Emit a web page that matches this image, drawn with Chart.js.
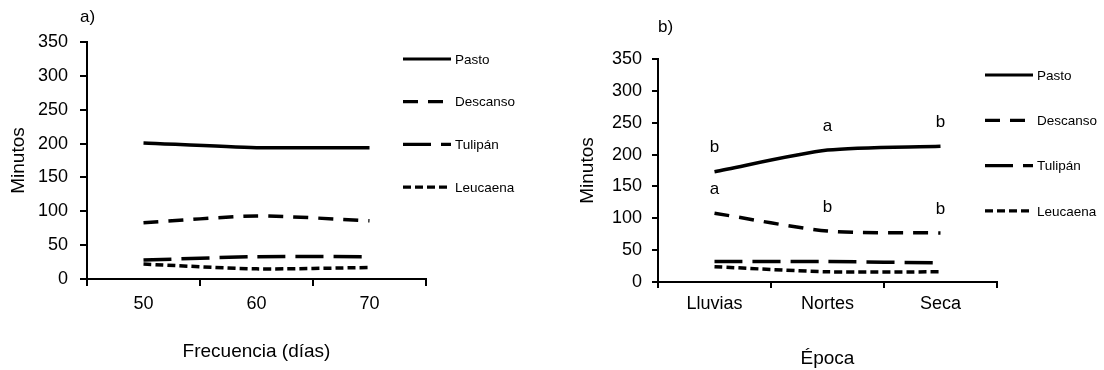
<!DOCTYPE html>
<html><head><meta charset="utf-8">
<script src="https://cdn.jsdelivr.net/npm/chart.js@4.4.1/dist/chart.umd.min.js"></script>
<style>
html,body{margin:0;padding:0;background:#fff;}
#wrap{position:relative;width:1104px;height:370px;background:#fff;}
.c{position:absolute;top:0;width:552px;height:370px;}
</style></head><body>
<div id="wrap">
<div class="c" style="left:0"><canvas id="ca" width="552" height="370"></canvas></div>
<div class="c" style="left:552px"><canvas id="cb" width="552" height="370"></canvas></div>
</div>
<script>
// ---- data ----
const frecuencias = ['50', '60', '70'];
const epocas = ['Lluvias', 'Nortes', 'Seca'];
const seriesNames = ['Pasto', 'Descanso', 'Tulipán', 'Leucaena'];
const yTicks = [0, 50, 100, 150, 200, 250, 300, 350];

const pastoA = [201, 194, 194];
const descansoA = [83, 93, 86];
const tulipanA = [28, 33, 33];
const leucaenaA = [22, 15, 17];

const pastoB = [173, 207, 213];
const descansoB = [108, 80, 77];
const tulipanB = [32, 32, 30];
const leucaenaB = [24, 16, 16];

const letrasPastoB = ['b', 'a', 'b'];
const letrasDescansoB = ['a', 'b', 'b'];

// ---- styles ----
const FONT = '"Liberation Sans", Arial, Helvetica, sans-serif';
const dashes = [[], [15, 10], [28, 10], [8, 4]];

function makeDatasets(vals) {
  return vals.map((v, i) => ({
    label: seriesNames[i],
    data: v,
    borderColor: '#000',
    backgroundColor: '#000',
    borderWidth: 3.5,
    borderDash: dashes[i],
    borderCapStyle: 'butt',
    pointRadius: 0,
    tension: 0.25,
    fill: false
  }));
}

const extras = {
  id: 'extras',
  afterDatasetsDraw(chart, args, o) {
    const ctx = chart.ctx;
    ctx.save();
    ctx.fillStyle = '#000';
    ctx.textBaseline = 'middle';
    ctx.textAlign = 'left';
    ctx.font = '17px ' + FONT;
    ctx.fillText(o.panel, o.panelX, o.panelY);
    chart.data.datasets.forEach((ds, i) => {
      const y = o.legY + i * o.legGap;
      ctx.beginPath();
      ctx.setLineDash(ds.borderDash || []);
      ctx.lineWidth = 3.2;
      ctx.strokeStyle = '#000';
      ctx.lineCap = 'butt';
      ctx.moveTo(o.legX, y);
      ctx.lineTo(o.legX + 48, y);
      ctx.stroke();
      ctx.setLineDash([]);
      ctx.font = '13.5px ' + FONT;
      ctx.fillText(ds.label, o.legX + 52, y + 1);
    });
    if (o.letters) {
      ctx.font = '17px ' + FONT;
      ctx.textAlign = 'center';
      o.letters.forEach(l => {
        const meta = chart.getDatasetMeta(l.ds);
        meta.data.forEach((pt, j) => ctx.fillText(l.text[j], pt.x, pt.y - 24));
      });
    }
    ctx.restore();
  }
};

function makeChart(id, cats, vals, cfg) {
  return new Chart(document.getElementById(id), {
    type: 'line',
    data: { labels: cats, datasets: makeDatasets(vals) },
    plugins: [extras],
    options: {
      responsive: false,
      animation: false,
      devicePixelRatio: 1,
      layout: { padding: cfg.padding },
      plugins: {
        legend: { display: false },
        tooltip: { enabled: false },
        extras: cfg.extras
      },
      scales: {
        x: {
          type: 'category',
          offset: true,
          grid: { offset: true, drawOnChartArea: false, drawTicks: true, tickLength: cfg.xTick, color: '#000', lineWidth: 2 },
          border: { display: true, color: '#000', width: 2 },
          ticks: { color: '#000', font: { family: FONT, size: 18 }, padding: cfg.xPad, maxRotation: 0, autoSkip: false },
          title: { display: true, text: cfg.xTitle, color: '#000', font: { family: FONT, size: 19 }, padding: { top: 0, bottom: cfg.xTitlePad } },
          afterFit(s) { s.height = cfg.xHeight; }
        },
        y: {
          min: 0, max: 350,
          afterBuildTicks(s) { s.ticks = yTicks.map(v => ({ value: v })); },
          grid: { drawOnChartArea: false, drawTicks: true, tickLength: cfg.yTick, color: '#000', lineWidth: 2 },
          border: { display: true, color: '#000', width: 2 },
          ticks: { color: '#000', font: { family: FONT, size: 18 }, padding: cfg.yPad },
          title: { display: true, text: 'Minutos', color: '#000', font: { family: FONT, size: 19 }, padding: { top: cfg.yTitlePad, bottom: 0 } },
          afterFit(s) { s.width = cfg.yWidth; }
        }
      }
    }
  });
}

makeChart('ca', frecuencias, [pastoA, descansoA, tulipanA, leucaenaA], {
  padding: { left: 0, top: 42, right: 126, bottom: 0 },
  xHeight: 91, yWidth: 87, xTick: 7, yTick: 7, xPad: 7, yPad: 12,
  xTitle: 'Frecuencia (días)', xTitlePad: 7, yTitlePad: 7,
  extras: { panel: 'a)', panelX: 80, panelY: 17, legX: 403, legY: 59, legGap: 42.7 }
});

makeChart('cb', epocas, [pastoB, descansoB, tulipanB, leucaenaB], {
  padding: { left: 0, top: 59, right: 107, bottom: 0 },
  xHeight: 88, yWidth: 106, xTick: 6, yTick: 6, xPad: 5, yPad: 10,
  xTitle: 'Época', xTitlePad: 0, yTitlePad: 24,
  extras: { panel: 'b)', panelX: 106, panelY: 27, legX: 433, legY: 75, legGap: 45.3,
    letters: [{ ds: 0, text: letrasPastoB }, { ds: 1, text: letrasDescansoB }] }
});
</script>
</body></html>
